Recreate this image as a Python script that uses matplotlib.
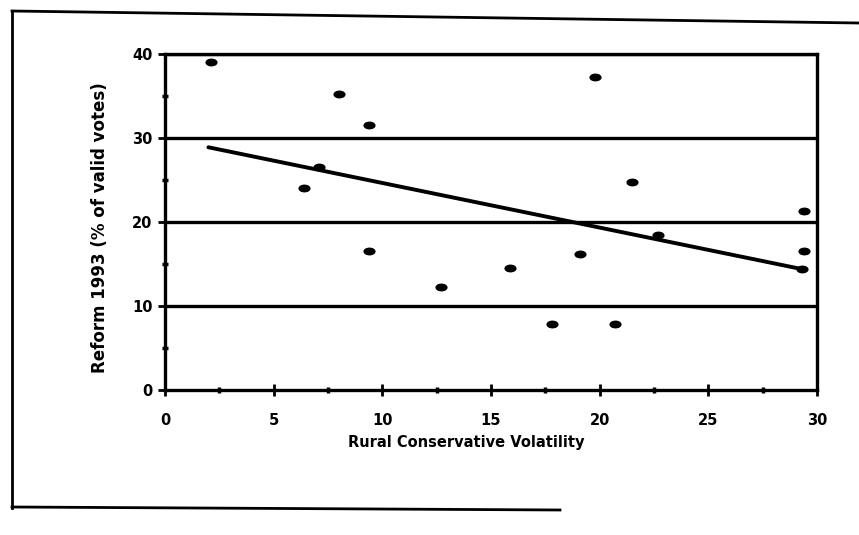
import matplotlib
matplotlib.use("Agg")
import matplotlib.pyplot as plt
from matplotlib.path import Path
from matplotlib.markers import MarkerStyle
from matplotlib.lines import Line2D
import matplotlib.transforms as mtransforms

plt.rcParams['font.family'] = ['DejaVu Sans']

# Data
volatility = [2.1, 6.4, 7.1, 8.0, 9.4, 9.4, 12.7, 15.9, 17.8, 19.1, 19.8, 20.7, 21.5, 22.7, 29.3, 29.4, 29.4]
reform_1993 = [39.0, 24.1, 26.6, 35.3, 31.6, 16.5, 12.3, 14.5, 7.8, 16.2, 37.3, 7.8, 24.8, 18.5, 14.4, 16.5, 21.3]
fit_x = [2.0, 29.3]
fit_y = [28.9, 14.4]
x_ticks = [0, 5, 10, 15, 20, 25, 30]
y_ticks = [0, 10, 20, 30, 40]
x_label = "Rural Conservative Volatility"
y_label = "Reform 1993 (% of valid votes)"

fig = plt.figure(figsize=(8.59, 5.35), dpi=100)
ax = fig.add_axes([0.192, 0.271, 0.759, 0.628])

# elliptical marker
circ = Path.unit_circle()
ell = circ.transformed(mtransforms.Affine2D().scale(1.0, 0.6))
mk = MarkerStyle(ell)

for yv in y_ticks[1:]:
    ax.axhline(yv, color='black', lw=2.4, zorder=1)

ax.plot(fit_x, fit_y, color='black', lw=2.8, zorder=2, solid_capstyle='round')
ax.scatter(volatility, reform_1993, marker=mk, s=60, color='black', zorder=3)

ax.set_xlim(0, 30)
ax.set_ylim(0, 40)
ax.set_xticks(x_ticks)
ax.set_yticks(y_ticks)
ax.set_xticks([2.5, 7.5, 12.5, 17.5, 22.5, 27.5], minor=True)
ax.set_yticks([5, 15, 25, 35], minor=True)
for s in ax.spines.values():
    s.set_linewidth(2.4)
ax.tick_params(axis='x', which='major', direction='inout', length=9, width=2, pad=12, labelsize=10.5)
ax.tick_params(axis='y', which='major', direction='out', length=5, width=2, pad=4, labelsize=10.5)
ax.tick_params(axis='both', which='minor', direction='inout', length=5, width=2.5)
for lab in ax.get_xticklabels() + ax.get_yticklabels():
    lab.set_fontweight('bold')

fig.text(466/859, 1-442/535, x_label, fontsize=10.5, fontweight='bold', ha='center', va='center')
fig.text(100/859, 1-228/535, y_label, fontsize=12, fontweight='bold', rotation=90, ha='center', va='center')

# outer frame of the scanned figure
fig.add_artist(Line2D([12/859, 12/859], [1-11/535, 1-508/535], color='black', lw=2))
fig.add_artist(Line2D([12/859, 1.0], [1-11/535, 1-23/535], color='black', lw=2))
fig.add_artist(Line2D([12/859, 560/859], [1-507/535, 1-510/535], color='black', lw=2))

fig.savefig("out.png", dpi=100)
